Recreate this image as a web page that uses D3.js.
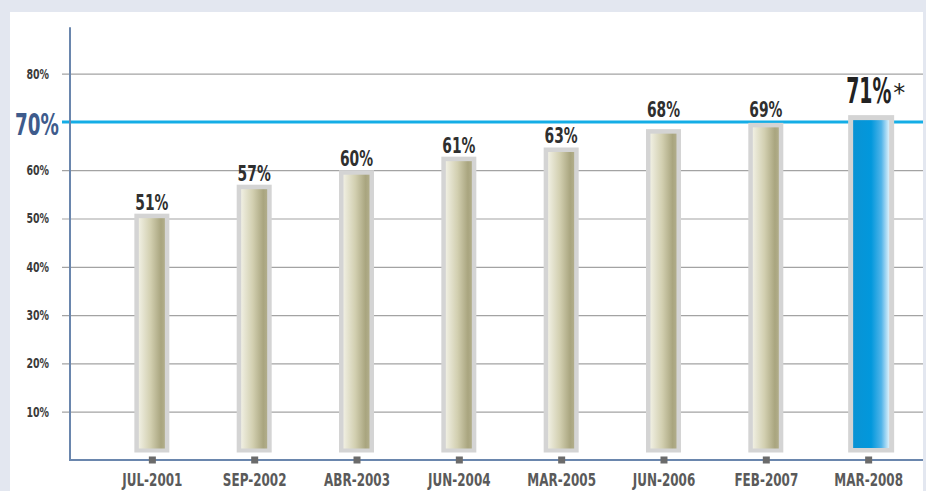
<!DOCTYPE html>
<html>
<head>
<meta charset="utf-8">
<script src="https://cdn.jsdelivr.net/npm/d3@7.9.0/dist/d3.min.js"></script>
<style>
  body { margin: 0; background: #e3e7f0; }
  svg { display: block; }
  .cond { font-family: 'DejaVu Sans Condensed', 'Liberation Sans Narrow', sans-serif; font-weight: bold; }
</style>
</head>
<body>
<svg id="chart"></svg>
<script>
const periods = ['JUL-2001', 'SEP-2002', 'ABR-2003', 'JUN-2004', 'MAR-2005', 'JUN-2006', 'FEB-2007', 'MAR-2008'];
// printed values
const values = [51, 57, 60, 61, 63, 68, 69, 71];
// bar heights as drawn in the original graphic (not exactly the printed values)
const barLevels = [51, 57, 60, 62.8, 64.7, 68.5, 69.8, 71.4];
const yTicks = [10, 20, 30, 40, 50, 60, 80];
const targetValue = 70;
const highlight = 'MAR-2008';

const width = 926, height = 491;
const svg = d3.select('#chart').attr('width', width).attr('height', height);

// white panel
svg.append('rect').attr('x', 10).attr('y', 12).attr('width', 913).attr('height', height - 12).attr('fill', '#fff');

const y = d3.scaleLinear().domain([0, 90]).range([460, 25.3]);
const x = d3.scalePoint().domain(periods).range([70, 950]).padding(0.8);
const right = 923;

const defs = svg.append('defs');
const tan = defs.append('linearGradient').attr('id', 'tan');
[[0, '#f0efe2'], [0.45, '#d2cfb0'], [0.85, '#a9a57f'], [1, '#b1ad8a']].forEach(([o, c]) =>
  tan.append('stop').attr('offset', o).attr('stop-color', c));
const blue = defs.append('linearGradient').attr('id', 'blue');
[[0, '#0a93d4'], [0.5, '#0298dc'], [0.78, '#4fb3e8'], [1, '#dcf0fb']].forEach(([o, c]) =>
  blue.append('stop').attr('offset', o).attr('stop-color', c));

// gridlines + y labels
const yAxis = svg.append('g')
  .attr('transform', 'translate(62,0)')
  .call(d3.axisLeft(y).tickValues(yTicks).tickSize(-(right - 62)).tickPadding(13).tickFormat(d => d + '%'));
yAxis.select('.domain').remove();
yAxis.selectAll('line').attr('stroke', '#a3a3a3').attr('stroke-width', 1.2);
yAxis.selectAll('text')
  .attr('class', 'cond')
  .attr('font-size', 14)
  .attr('fill', '#3a3a3a')
  .attr('x', 0)
  .attr('transform', 'translate(-13,0) scale(0.75,1)');

// target line
svg.append('line')
  .attr('x1', 62).attr('x2', right)
  .attr('y1', y(targetValue)).attr('y2', y(targetValue))
  .attr('stroke', '#14ade6').attr('stroke-width', 3);
svg.append('text')
  .attr('class', 'cond')
  .attr('transform', `translate(59,${y(targetValue) + 13}) scale(0.68,1)`)
  .attr('text-anchor', 'end')
  .attr('font-size', 30)
  .attr('fill', '#3e5b8c')
  .text(targetValue + '%');

// axes lines
svg.append('line').attr('x1', 70).attr('x2', 70).attr('y1', y(89.6)).attr('y2', y(0) + 1)
  .attr('stroke', '#6a86ad').attr('stroke-width', 2);
svg.append('line').attr('x1', 69).attr('x2', right).attr('y1', y(0)).attr('y2', y(0))
  .attr('stroke', '#6a86ad').attr('stroke-width', 2);

// bars
const data = periods.map((p, i) => ({ period: p, value: values[i], level: barLevels[i], hi: p === highlight }));
const bars = svg.append('g').selectAll('g').data(data).join('g');
const outerW = d => d.hi ? 46 : 35;
const border = d => d.hi ? 5 : 4.5;
const barBottom = y(0) - 7.5;

bars.append('rect')
  .attr('x', d => x(d.period) - outerW(d) / 2 + (d.hi ? 3 : 0))
  .attr('y', d => y(d.level))
  .attr('width', outerW)
  .attr('height', d => barBottom - y(d.level))
  .attr('fill', '#d4d4d4');
bars.append('rect')
  .attr('x', d => x(d.period) - outerW(d) / 2 + border(d) + (d.hi ? 3 : 0))
  .attr('y', d => y(d.level) + border(d))
  .attr('width', d => outerW(d) - 2 * border(d))
  .attr('height', d => barBottom - y(d.level) - 2 * border(d) + 0.5)
  .attr('fill', d => d.hi ? 'url(#blue)' : 'url(#tan)');

// value labels (kept clear of the target line)
bars.filter(d => !d.hi).append('text')
  .attr('class', 'cond')
  .attr('transform', d => {
    let base = y(d.level) - 4;
    if (base > y(targetValue) - 8 && base < y(targetValue) + 20) base = y(targetValue) - 5;
    return `translate(${x(d.period)},${base}) scale(0.7,1)`;
  })
  .attr('text-anchor', 'middle')
  .attr('font-size', 22)
  .attr('fill', '#2f2f2f')
  .text(d => d.value + '%');

const hi = bars.filter(d => d.hi);
hi.append('text')
  .attr('class', 'cond')
  .attr('transform', d => `translate(${x(d.period) - 22},${y(d.level) - 12}) scale(0.6,1)`)
  .attr('font-size', 35)
  .attr('fill', '#222')
  .text(d => d.value + '%');
hi.append('text')
  .attr('x', d => x(d.period) + 25)
  .attr('y', d => y(d.level) - 14)
  .attr('font-family', 'DejaVu Sans, sans-serif')
  .attr('font-size', 24)
  .attr('fill', '#222')
  .text('*');

// x axis labels + tick squares
const xAxis = svg.append('g')
  .attr('transform', `translate(0,${y(0)})`)
  .call(d3.axisBottom(x).tickSize(0).tickPadding(0));
xAxis.select('.domain').remove();
xAxis.selectAll('text')
  .attr('class', 'cond')
  .attr('font-size', 18)
  .attr('fill', '#5a5a5a')
  .attr('y', 0)
  .attr('dy', 0)
  .attr('transform', 'translate(0,26) scale(0.74,1)');
xAxis.selectAll('.tick').append('rect')
  .attr('x', -3.5).attr('y', -3.5).attr('width', 7).attr('height', 7)
  .attr('fill', '#6b6b6b');
</script>
</body>
</html>
